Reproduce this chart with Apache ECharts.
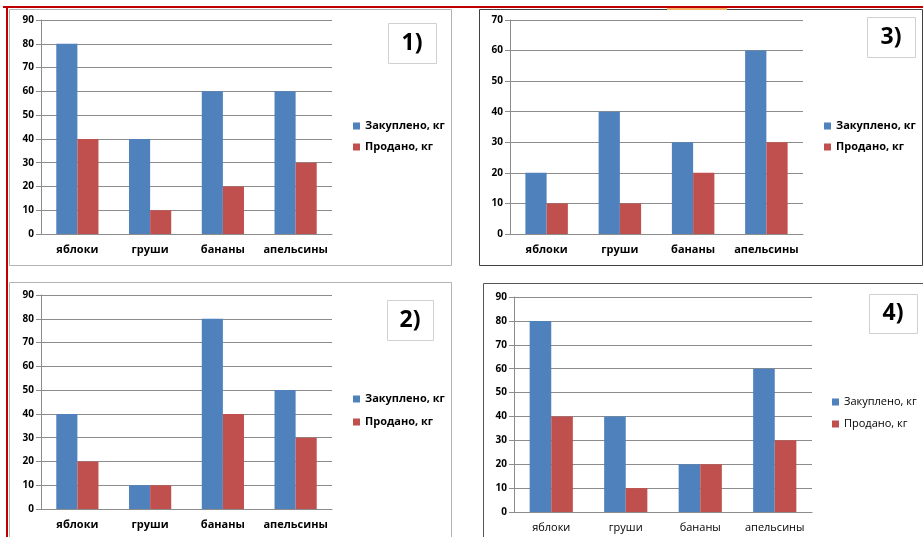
<!DOCTYPE html>
<html>
<head>
<meta charset="UTF-8">
<title>Закуплено / Продано</title>
<script src="https://cdn.jsdelivr.net/npm/echarts@6/dist/echarts.min.js"></script>
<style>
    body { margin: 0; background: #fff; }
    #chart { width: 923px; height: 537px; }
</style>
</head>
<body>
<div id="chart"></div>
<script>
// data
var categories = ['яблоки', 'груши', 'бананы', 'апельсины'];
var seriesNames = ['Закуплено, кг', 'Продано, кг'];
var bought1 = [80, 40, 60, 60], sold1 = [40, 10, 20, 30];
var bought2 = [40, 10, 80, 50], sold2 = [20, 10, 40, 30];
var bought3 = [20, 40, 30, 60], sold3 = [10, 10, 20, 30];
var bought4 = [80, 40, 20, 60], sold4 = [40, 10, 20, 30];
var yMax = [90, 90, 70, 90];
var panelLabels = ['1)', '2)', '3)', '4)'];

var FONT = '"Open Sans", "Noto Sans", sans-serif';
var BLUE = '#4F81BD', RED = '#C0504D', GRID = '#8c8c8c';

// panel layout: plot area, legend, number box, frame
var panels = [
    {grid: {left: 41, top: 20, width: 291, height: 214}, legend: {left: 353, top: 119, gap: 7},
     box: [388, 23, 48, 40], frame: [9, 9, 442, 256, '#b4b4b4'], bold: true,
     bought: bought1, sold: sold1},
    {grid: {left: 41, top: 295, width: 291, height: 214}, legend: {left: 353, top: 392, gap: 9},
     box: [387, 300, 46, 40], frame: [9, 282, 442, 270, '#b4b4b4'], bold: true,
     bought: bought2, sold: sold2},
    {grid: {left: 510, top: 20, width: 293, height: 214}, legend: {left: 824, top: 119, gap: 7},
     box: [867, 17, 48, 40], frame: [479, 9, 443, 256, '#404040'], bold: true,
     bought: bought3, sold: sold3},
    {grid: {left: 514, top: 297, width: 298, height: 215}, legend: {left: 832, top: 395, gap: 8},
     box: [869, 294, 48, 39], frame: [483, 283, 460, 270, '#555555'], bold: false,
     bought: bought4, sold: sold4}
];

var grids = [], xAxes = [], yAxes = [], series = [], legends = [], graphics = [];

panels.forEach(function (p, i) {
    grids.push(p.grid);
    xAxes.push({
        type: 'category', gridIndex: i, data: categories,
        axisLine: {lineStyle: {color: GRID}},
        axisTick: {length: 4, lineStyle: {color: GRID}},
        axisLabel: {interval: 0, color: '#000', fontFamily: FONT, fontSize: 11,
            fontWeight: p.bold ? 'bold' : 'normal', margin: 10}
    });
    yAxes.push({
        type: 'value', gridIndex: i, min: 0, max: yMax[i], interval: 10,
        axisLine: {show: true, lineStyle: {color: GRID}},
        axisTick: {show: true, length: 5, lineStyle: {color: GRID}},
        splitLine: {lineStyle: {color: GRID}},
        axisLabel: {color: '#000', fontFamily: FONT, fontSize: 10, fontWeight: 'bold', margin: 7}
    });
    series.push({
        name: seriesNames[0], type: 'bar', xAxisIndex: i, yAxisIndex: i,
        data: p.bought, itemStyle: {color: BLUE},
        barGap: '0%', barCategoryGap: '42%'
    });
    series.push({
        name: seriesNames[1], type: 'bar', xAxisIndex: i, yAxisIndex: i,
        data: p.sold, itemStyle: {color: RED},
        barGap: '0%', barCategoryGap: '42%'
    });
    legends.push({
        data: seriesNames, orient: 'vertical', left: p.legend.left, top: p.legend.top,
        padding: 0, itemWidth: 7, itemHeight: 7, itemGap: p.legend.gap, icon: 'rect',
        textStyle: {color: '#000', fontFamily: FONT, fontSize: 11,
            fontWeight: p.bold ? 'bold' : 'normal', lineHeight: 14}
    });
    // outer chart frame
    graphics.push({
        type: 'rect', z: -10,
        shape: {x: p.frame[0] + 0.5, y: p.frame[1] + 0.5, width: p.frame[2], height: p.frame[3]},
        style: {fill: '#fff', stroke: p.frame[4], lineWidth: 1}
    });
    // number box
    graphics.push({
        type: 'rect', z: 5,
        shape: {x: p.box[0] + 0.5, y: p.box[1] + 0.5, width: p.box[2], height: p.box[3]},
        style: {fill: '#fff', stroke: '#d0d0d0', lineWidth: 1}
    });
    graphics.push({
        type: 'text', z: 6,
        x: p.box[0] + p.box[2] / 2, y: p.box[1] + p.box[3] / 2,
        style: {text: panelLabels[i], fill: '#000', font: 'bold 23px ' + FONT,
            align: 'center', verticalAlign: 'middle'}
    });
});

// sheet decorations: red borders and highlight
graphics.push({type: 'rect', z: 20, shape: {x: 3, y: 6, width: 920, height: 2}, style: {fill: '#c00000'}});
graphics.push({type: 'rect', z: 20, shape: {x: 6, y: 6, width: 2, height: 531}, style: {fill: '#c00000'}});
graphics.push({type: 'rect', z: 19, shape: {x: 667, y: 8, width: 60, height: 2}, style: {fill: '#f5b36a'}});

var myChart = echarts.init(document.getElementById('chart'));
myChart.setOption({
    animation: false,
    backgroundColor: '#fff',
    grid: grids,
    xAxis: xAxes,
    yAxis: yAxes,
    legend: legends,
    series: series,
    graphic: graphics
});
</script>
</body>
</html>
